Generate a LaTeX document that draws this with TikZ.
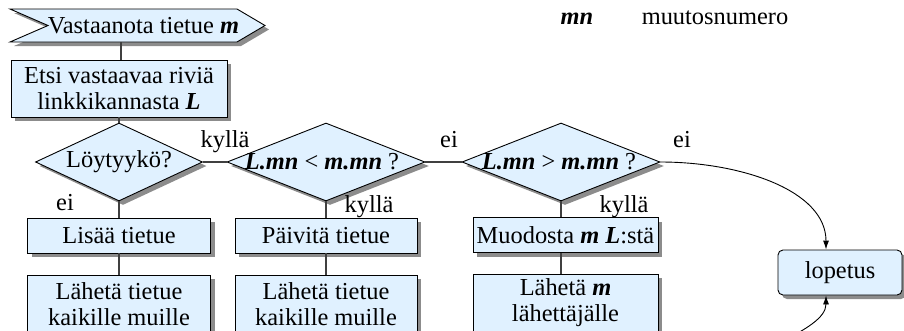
\documentclass[tikz,border=0pt]{standalone}
\usepackage{fontspec}
\setmainfont{Liberation Serif}
\usetikzlibrary{shapes.geometric,shadows,arrows.meta}
\definecolor{boxfill}{RGB}{224,241,255}
\newcommand{\bi}[1]{\textbf{\textit{#1}}}
\begin{document}
\begin{tikzpicture}[x=1pt,y=-1pt, font=\fontsize{24.4}{26}\selectfont,
 dshadow/.style={drop shadow={shadow xshift=4pt,shadow yshift=-4pt,fill=black,opacity=.45}},
 procbox/.style={draw=black, line width=0.9pt, fill=boxfill, dshadow, inner sep=0pt, align=center},
 dia/.style={diamond, draw=black, line width=0.9pt, fill=boxfill, dshadow, inner sep=0pt},
 conn/.style={draw=black!75, line width=1.1pt},
 arr/.style={draw=black, line width=0.9pt, -{Latex[length=9pt,width=6pt]}},
 lab/.style={anchor=base, inner sep=0pt}]
\useasboundingbox (0,0) rectangle (904,330);
\clip (0,0) rectangle (904,330);

% start shape
\path[fill=boxfill, draw=black, line width=.9pt, dshadow] (10,9) -- (237,9) -- (265,25.5) -- (237,42) -- (10,42) -- (48,25.5) -- cycle;
\node[lab] (start) at (143.5,33) {Vastaanota tietue \bi{m}};
\coordinate (startb) at (121,42);

\node[procbox, minimum width=216, minimum height=57] (etsi) at (119,88.5) {Etsi vastaavaa riviä\\linkkikannasta \bi{L}};

\node[dia, minimum width=167, minimum height=78, label=center:{Löytyykö?}] (d1) at (119,162) {};
\node[dia, minimum width=198, minimum height=78, label={[xshift=-4pt]center:{\bi{L.mn} < \bi{m.mn} ?}}] (d2) at (326,162) {};
\node[dia, minimum width=198, minimum height=78, label={[xshift=-2pt]center:{\bi{L.mn} > \bi{m.mn} ?}}] (d3) at (561,162) {};

\node[procbox, minimum width=183, minimum height=35] (add) at (119,235.5) {Lisää tietue};
\node[procbox, minimum width=182, minimum height=35] (upd) at (326,235.5) {Päivitä tietue};
\node[procbox, minimum width=185, minimum height=35] (form) at (565.5,235) {Muodosta \bi{m} \bi{L}:stä};

\node[procbox, minimum width=183, minimum height=58] (send1) at (119,304) {Lähetä tietue\\kaikille muille};
\node[procbox, minimum width=182, minimum height=58] (send2) at (326,304) {Lähetä tietue\\kaikille muille};
\node[procbox, minimum width=185, minimum height=58] (send3) at (565.5,303) {Lähetä \bi{m}\\lähettäjälle};

\node[procbox, rounded corners=5pt, minimum width=124, minimum height=45] (stop) at (840,272.5) {lopetus};

% connectors
\draw[conn] (startb) -- (startb |- etsi.north);
\draw[conn] (etsi.south) -- (d1.north);
\draw[conn] (d1.south) -- (add.north);
\draw[conn] (add.south) -- (send1.north);
\draw[conn] (d1.east) -- (d2.west);
\draw[conn] (d2.east) -- (d3.west);
\draw[conn] (d2.south) -- (upd.north);
\draw[conn] (upd.south) -- (send2.north);
\draw[conn] (d3.south) -- (d3.south |- form.north);
\draw[conn] (d3.south |- form.south) -- (d3.south |- send3.north);

\draw[arr] (d3.east) .. controls (740,162) and (826,190) .. ([xshift=-14pt]stop.north);
\coordinate (bstart) at (775,345);
\draw[arr] (bstart) .. controls (805,330) and (826,318) .. ([xshift=-14pt]stop.south);

% labels
\node[lab] (l1) at (225,147) {kyllä};
\node[lab] (l2) at (449,147) {ei};
\node[lab] (l3) at (682,147) {ei};
\node[lab] (l4) at (65,210) {ei};
\node[lab] (l5) at (369,212) {kyllä};
\node[lab] (l6) at (624,212) {kyllä};

% legend
\node[lab] (mn) at (577,24.5) {\bi{mn}};
\node[lab] (mnt) at (715,24.5) {muutosnumero};
\end{tikzpicture}
\end{document}
